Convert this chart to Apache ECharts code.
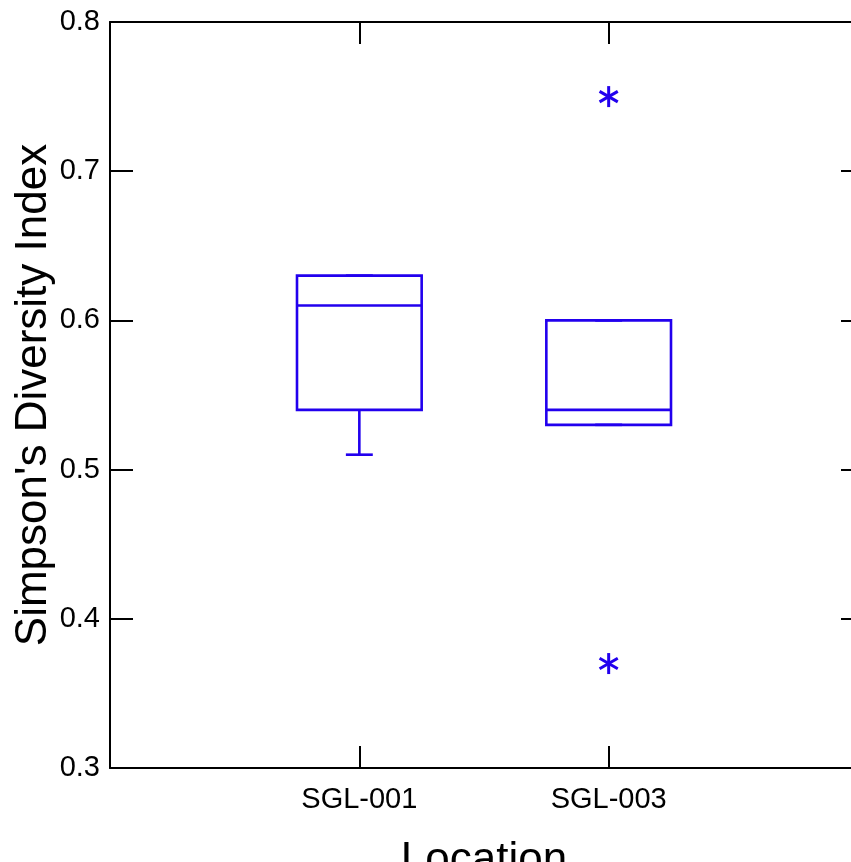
<!DOCTYPE html>
<html>
<head>
<meta charset="utf-8">
<script src="https://cdn.jsdelivr.net/npm/echarts@6/dist/echarts.min.js"></script>
<style>
  html, body { margin: 0; padding: 0; background: #fff; }
  #main { width: 851px; height: 862px; }
</style>
</head>
<body>
<div id="main"></div>
<script>
// box plot values
var categories = ['SGL-001', 'SGL-003'];
var positions = [1, 2];
var lowerWhisker = [0.51, 0.53];
var q1 = [0.54, 0.53];
var median = [0.61, 0.54];
var q3 = [0.63, 0.60];
var upperWhisker = [0.63, 0.60];
var outlierPos = [2, 2];
var outlierVal = [0.75, 0.37];

var blue = '#2200ee';
var font = '"Liberation Sans", Arial, sans-serif';

var boxData = positions.map(function (p, i) {
	return [p, lowerWhisker[i], q1[i], median[i], q3[i], upperWhisker[i]];
});
var outlierData = outlierPos.map(function (p, i) { return [p, outlierVal[i]]; });

var myChart = echarts.init(document.getElementById('main'));

function line(x1, y1, x2, y2, w) {
	return {
		type: 'line',
		shape: { x1: x1, y1: y1, x2: x2, y2: y2 },
		style: { stroke: blue, lineWidth: w || 2.6 }
	};
}

var option = {
	animation: false,
	grid: { left: 110, top: 22, width: 748, height: 746, outerBoundsMode: 'none', containLabel: false },
	xAxis: [{
		type: 'value', min: 0, max: 3, interval: 1,
		position: 'bottom',
		name: 'Location', nameLocation: 'middle', nameGap: 71,
		nameMoveOverlap: false,
		nameTextStyle: { fontFamily: font, fontSize: 44, color: '#000' },
		axisLine: { onZero: false, lineStyle: { color: '#000', width: 2 } },
		axisTick: { inside: true, length: 22, lineStyle: { color: '#000', width: 2 } },
		axisLabel: {
			margin: 17, fontFamily: font, fontSize: 29, color: '#000',
			formatter: function (v) { return categories[v - 1] || ''; }
		},
		splitLine: { show: false }
	}, {
		type: 'value', min: 0, max: 3, interval: 1,
		position: 'top',
		axisLine: { onZero: false, lineStyle: { color: '#000', width: 2 } },
		axisTick: { inside: true, length: 22, lineStyle: { color: '#000', width: 2 } },
		axisLabel: { show: false },
		splitLine: { show: false }
	}],
	yAxis: [{
		type: 'value', min: 0.3, max: 0.8, interval: 0.1,
		position: 'left',
		name: "Simpson's Diversity Index", nameLocation: 'middle', nameGap: 54,
		nameMoveOverlap: false,
		nameTextStyle: { fontFamily: font, fontSize: 44, color: '#000' },
		axisLine: { show: true, onZero: false, lineStyle: { color: '#000', width: 2 } },
		axisTick: { show: true, inside: true, length: 23, lineStyle: { color: '#000', width: 2 } },
		axisLabel: {
			margin: 10, fontFamily: font, fontSize: 29, color: '#000',
			formatter: function (v) { return v.toFixed(1); }
		},
		splitLine: { show: false }
	}, {
		type: 'value', min: 0.3, max: 0.8, interval: 0.1,
		position: 'right',
		axisLine: { show: true, onZero: false, lineStyle: { color: '#000', width: 2 } },
		axisTick: { show: true, inside: true, length: 17, lineStyle: { color: '#000', width: 2 } },
		axisLabel: { show: false },
		splitLine: { show: false }
	}],
	series: [{
		type: 'custom',
		xAxisIndex: 0, yAxisIndex: 0,
		data: boxData,
		renderItem: function (params, api) {
			var x = api.value(0);
			var lo = api.coord([x, api.value(1)]);
			var b = api.coord([x, api.value(2)]);
			var m = api.coord([x, api.value(3)]);
			var t = api.coord([x, api.value(4)]);
			var hi = api.coord([x, api.value(5)]);
			var left = api.coord([x - 0.25, 0])[0];
			var right = api.coord([x + 0.25, 0])[0];
			var capL = api.coord([x - 0.054, 0])[0];
			var capR = api.coord([x + 0.054, 0])[0];
			var cx = lo[0];
			return {
				type: 'group',
				children: [
					line(cx, lo[1], cx, b[1]),
					line(cx, t[1], cx, hi[1]),
					line(capL, lo[1], capR, lo[1]),
					line(capL, hi[1], capR, hi[1]),
					{
						type: 'rect',
						shape: { x: left, y: t[1], width: right - left, height: b[1] - t[1] },
						style: { fill: null, stroke: blue, lineWidth: 2.6 }
					},
					line(left, m[1], right, m[1])
				]
			};
		}
	}, {
		type: 'custom',
		xAxisIndex: 0, yAxisIndex: 0,
		data: outlierData,
		renderItem: function (params, api) {
			var p = api.coord([api.value(0), api.value(1)]);
			var r = 10.5, dx = r * Math.cos(Math.PI / 6), dy = r * Math.sin(Math.PI / 6);
			return {
				type: 'group',
				children: [
					line(p[0], p[1] - r, p[0], p[1] + r, 3),
					line(p[0] - dx, p[1] - dy, p[0] + dx, p[1] + dy, 3),
					line(p[0] - dx, p[1] + dy, p[0] + dx, p[1] - dy, 3)
				]
			};
		}
	}]
};

myChart.setOption(option);
</script>
</body>
</html>
